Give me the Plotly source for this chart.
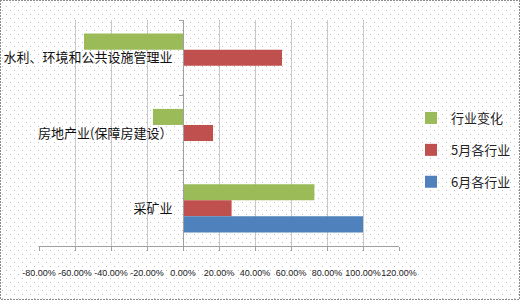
import base64
import struct
import zlib
import plotly.graph_objects as go

# Categories (top to bottom) and series values, in percent
categories = ["水利、环境和公共设施管理业", "房地产业(保障房建设）", "采矿业"]
change_values = [-55.0, -16.7, 73.0]
may_values = [55.0, 16.7, 27.0]
june_values = [0.0, 0.0, 100.0]

x_ticks = [-80, -60, -40, -20, 0, 20, 40, 60, 80, 100, 120]

W, H = 520, 300
L, R, T, B = 39, 121, 20, 54
PW, PH = W - L - R, H - T - B


def page_texture(w, h):
    """White page with a staggered grey dot pattern and a dashed frame, as PNG."""
    rows = []
    for y in range(h):
        row = bytearray([0])
        for x in range(w):
            c = 255
            if (x % 8 == 2 and y % 8 == 2) or (x % 8 == 6 and y % 8 == 6):
                c = 190
            if (y in (0, h - 1) or x in (0, w - 1)) and ((x + y) % 3 != 2):
                c = 140
            row += bytes((c, c, c))
        rows.append(bytes(row))
    raw = zlib.compress(b"".join(rows), 9)

    def chunk(tag, data):
        return (struct.pack(">I", len(data)) + tag + data
                + struct.pack(">I", zlib.crc32(tag + data) & 0xFFFFFFFF))

    png = (b"\x89PNG\r\n\x1a\n"
           + chunk(b"IHDR", struct.pack(">IIBBBBB", w, h, 8, 2, 0, 0, 0))
           + chunk(b"IDAT", raw) + chunk(b"IEND", b""))
    return "data:image/png;base64," + base64.b64encode(png).decode()


fig = go.Figure()
series = [
    ("行业变化", change_values, "#9BBB59"),
    ("5月各行业", may_values, "#C0504D"),
    ("6月各行业", june_values, "#4F81BD"),
]
for name, vals, color in series:
    fig.add_trace(go.Bar(
        y=categories, x=vals, name=name, orientation="h",
        legendgroup=name,
        marker=dict(color=color, line=dict(width=0)),
    ))

zero_pos = (0 - x_ticks[0]) / (x_ticks[-1] - x_ticks[0])

fig.update_layout(
    width=W, height=H,
    margin=dict(l=L, r=R, t=T, b=B, autoexpand=False),
    paper_bgcolor="white",
    plot_bgcolor="rgba(0,0,0,0)",
    barmode="group",
    bargap=0.36,
    bargroupgap=0,
    font=dict(family="Noto Sans CJK SC", color="#000000", size=12),
    showlegend=True,
    legend=dict(
        traceorder="grouped",
        tracegroupgap=12,
        xref="container", x=411 / W, xanchor="left",
        yref="container", y=0.5, yanchor="middle",
        bgcolor="rgba(0,0,0,0)",
        font=dict(size=13, color="#222222"),
        itemwidth=30,
    ),
    xaxis=dict(
        range=[x_ticks[0], x_ticks[-1]],
        tickvals=x_ticks,
        ticktext=[f"{v:.2f}%" for v in x_ticks],
        tickangle=0,
        showgrid=True, gridcolor="#c8c8c8", gridwidth=1,
        zeroline=False,
        showline=True, linecolor="#a0a0a0", linewidth=1,
        ticks="outside", ticklen=4, tickcolor="#a0a0a0",
        tickfont=dict(size=9, family="Liberation Sans", color="#222222"),
        ticklabelstandoff=14,
        automargin=False,
        fixedrange=True,
    ),
    yaxis=dict(
        type="category",
        autorange="reversed",
        anchor="free", position=zero_pos,
        tickson="boundaries",
        showgrid=False, zeroline=False,
        showline=True, linecolor="#a0a0a0", linewidth=1,
        ticks="outside", ticklen=4, tickcolor="#a0a0a0",
        tickfont=dict(size=13, family="Noto Sans CJK SC", color="#111111"),
        ticklabelstandoff=8,
        automargin=False,
        fixedrange=True,
    ),
    images=[dict(
        source=page_texture(W, H), xref="paper", yref="paper",
        x=-L / PW, y=1 + T / PH, sizex=W / PW, sizey=H / PH,
        xanchor="left", yanchor="top", sizing="stretch", layer="below",
    )],
)

fig.write_html("out.html")
